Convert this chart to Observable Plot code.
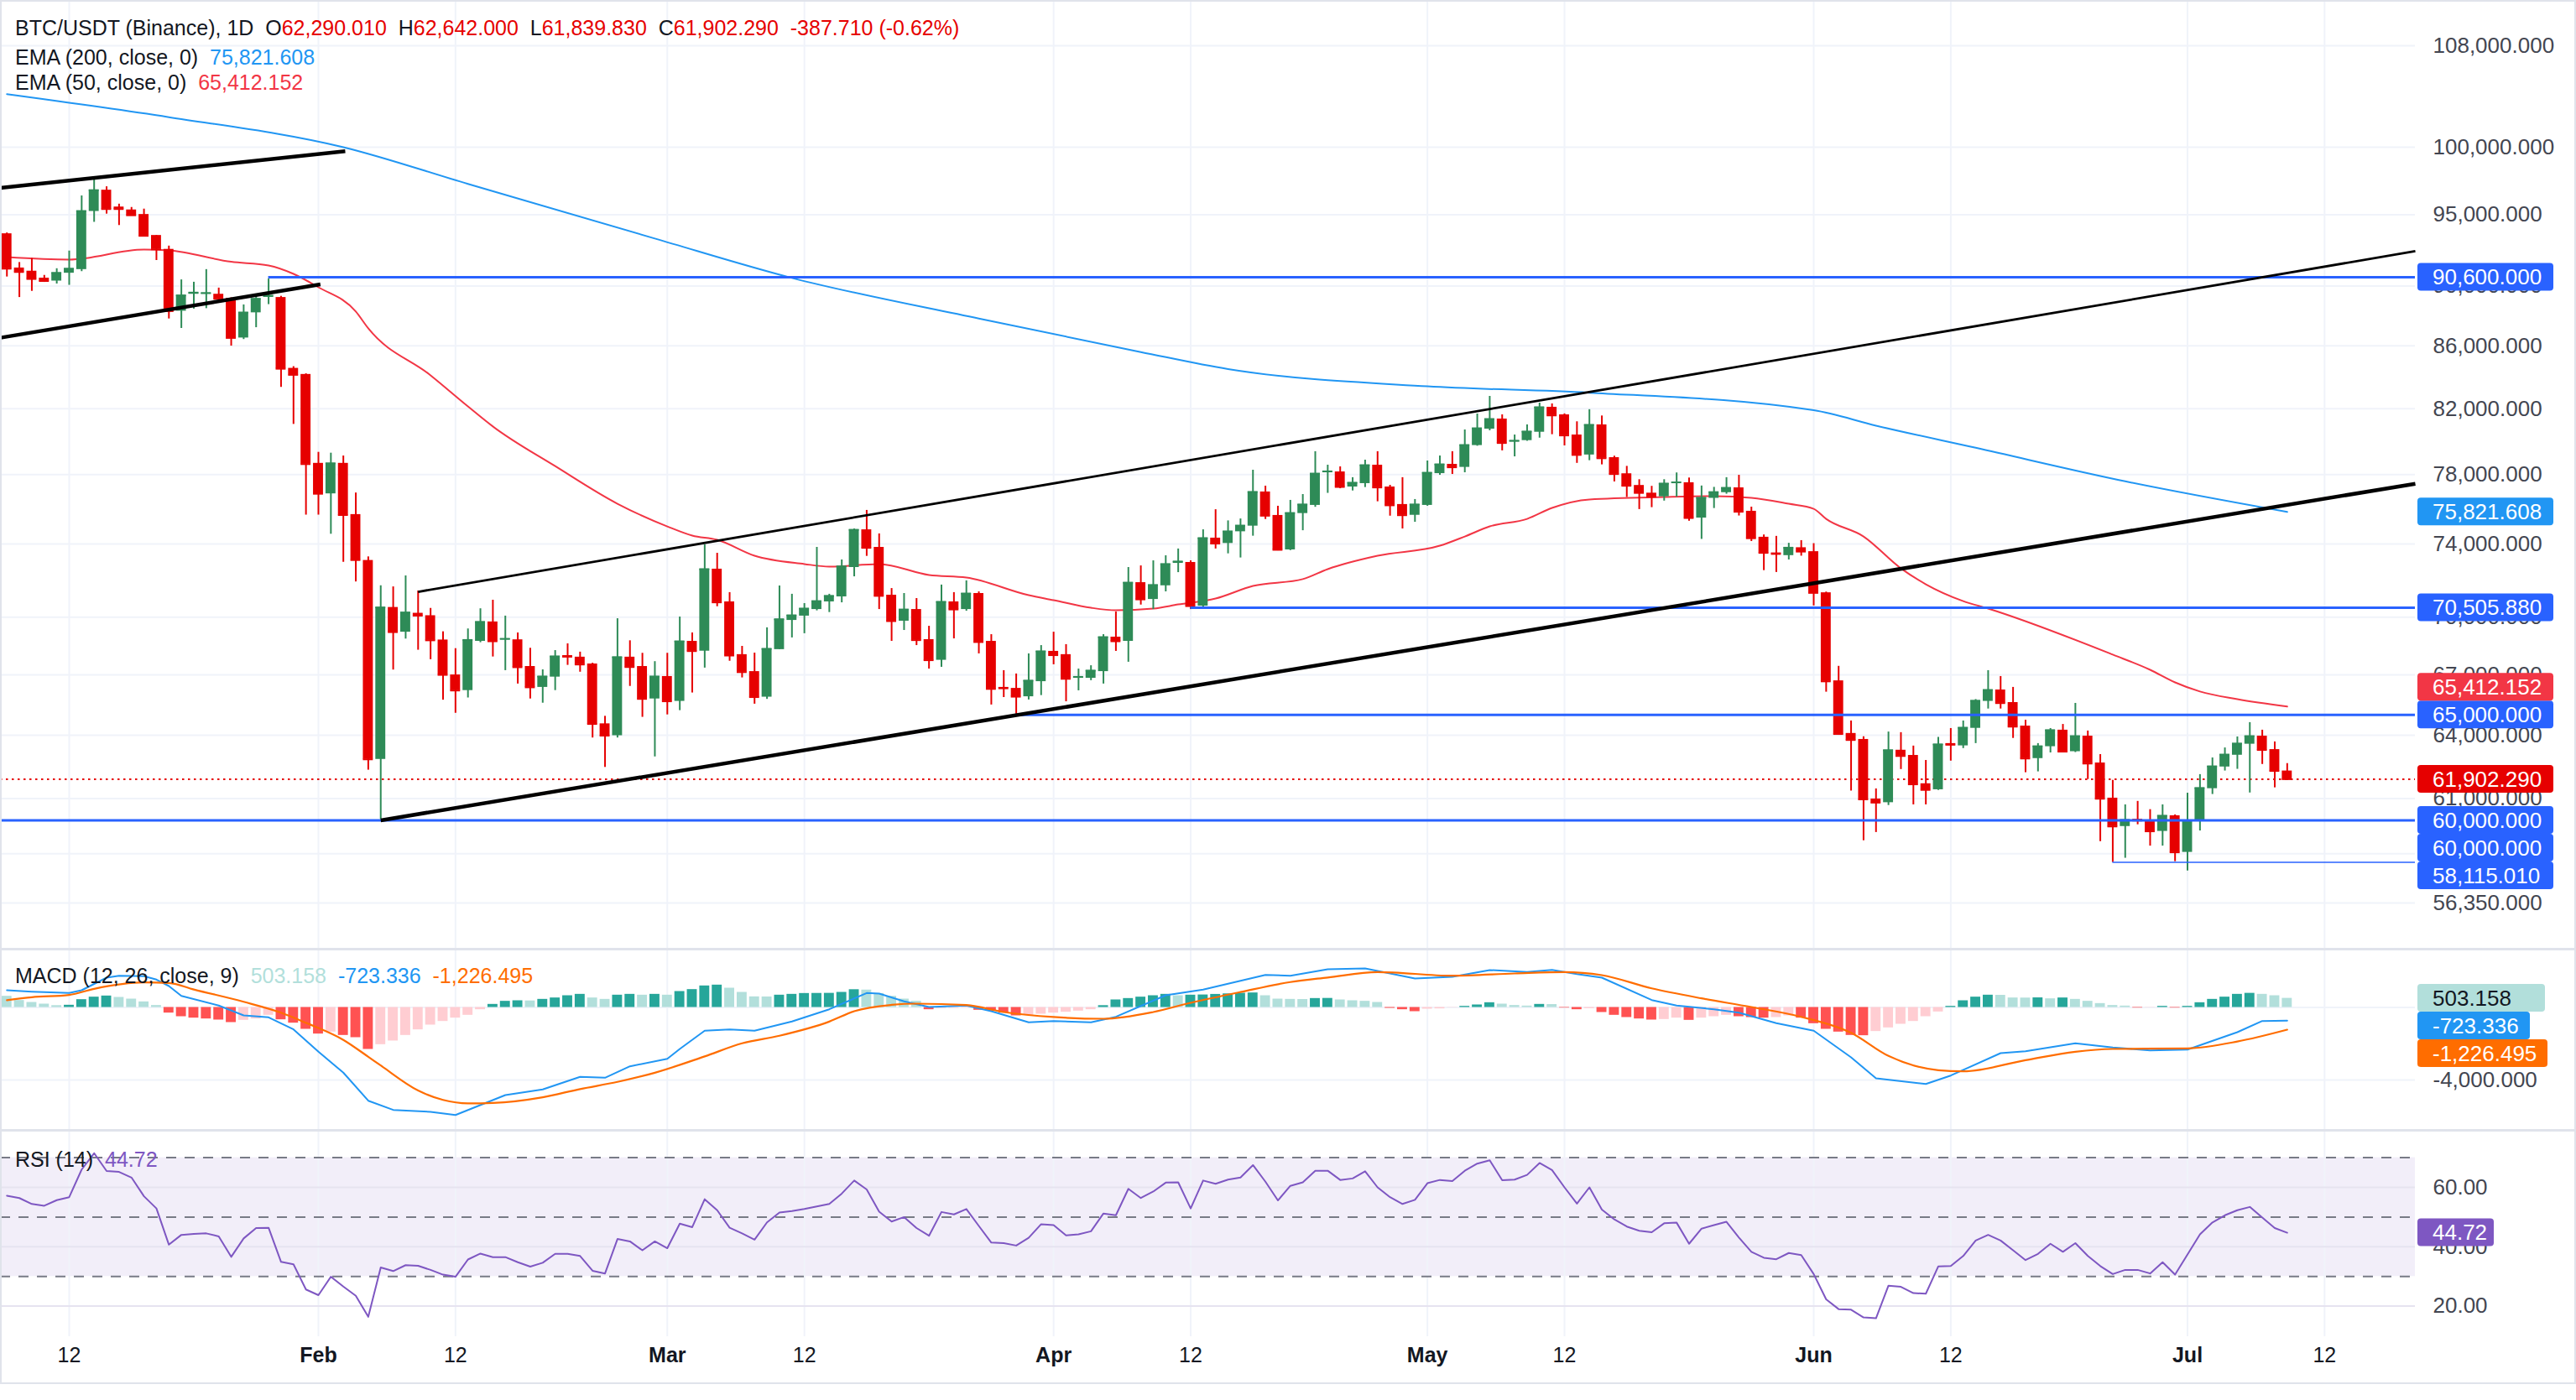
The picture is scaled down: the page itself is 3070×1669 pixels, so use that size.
<!DOCTYPE html>
<html>
<head>
<meta charset="utf-8">
<script src="https://cdn.jsdelivr.net/npm/d3@7"></script>
<script src="https://cdn.jsdelivr.net/npm/@observablehq/plot@0.6"></script>
<style>
html, body { margin:0; padding:0; background:#ffffff; overflow:hidden; }
#chart { position:relative; width:3070px; height:1669px; background:#fff; font-family:"Liberation Sans", Arial, sans-serif; }
#chart svg { position:absolute; left:0; max-width:none; }
.legend { position:absolute; left:18px; font-size:25px; line-height:30px; color:#131722; white-space:pre; z-index:5; }
.sep { position:absolute; left:0; width:3070px; height:3px; background:#e0e3eb; z-index:4; }
.border { position:absolute; left:0; top:0; width:3066px; height:1646px; border:2px solid #e0e3eb; pointer-events:none; z-index:6; }
</style>
</head>
<body>
<div id="chart"></div>
<script>
// ---------------- DATA ----------------
const dates = [
"01-07","01-08","01-09","01-10","01-11","01-12","01-13","01-14","01-15","01-16","01-17","01-18","01-19","01-20","01-21","01-22","01-23","01-24","01-25","01-26","01-27","01-28","01-29","01-30","01-31",
"02-01","02-02","02-03","02-04","02-05","02-06","02-07","02-08","02-09","02-10","02-11","02-12","02-13","02-14","02-15","02-16","02-17","02-18","02-19","02-20","02-21","02-22","02-23","02-24","02-25","02-26","02-27","02-28",
"03-01","03-02","03-03","03-04","03-05","03-06","03-07","03-08","03-09","03-10","03-11","03-12","03-13","03-14","03-15","03-16","03-17","03-18","03-19","03-20","03-21","03-22","03-23","03-24","03-25","03-26","03-27","03-28","03-29","03-30","03-31",
"04-01","04-02","04-03","04-04","04-05","04-06","04-07","04-08","04-09","04-10","04-11","04-12","04-13","04-14","04-15","04-16","04-17","04-18","04-19","04-20","04-21","04-22","04-23","04-24","04-25","04-26","04-27","04-28","04-29","04-30",
"05-01","05-02","05-03","05-04","05-05","05-06","05-07","05-08","05-09","05-10","05-11","05-12","05-13","05-14","05-15","05-16","05-17","05-18","05-19","05-20","05-21","05-22","05-23","05-24","05-25","05-26","05-27","05-28","05-29","05-30","05-31",
"06-01","06-02","06-03","06-04","06-05","06-06","06-07","06-08","06-09","06-10","06-11","06-12","06-13","06-14","06-15","06-16","06-17","06-18","06-19","06-20","06-21","06-22","06-23","06-24","06-25","06-26","06-27","06-28","06-29","06-30",
"07-01","07-02","07-03","07-04","07-05","07-06","07-07","07-08","07-09"];

const open = [
93640,91240,91020,90540,90340,90880,91130,95240,96790,95560,95350,95020,93520,92540,88300,89440,89440,89440,89160,86520,88190,89230,89220,84550,84160,
78670,76870,78670,75670,73080,62840,70520,69210,70210,70080,68800,67000,66210,68730,69750,68800,68810,67430,66370,66890,67990,67910,67560,64560,63980,67910,67430,65790,
66920,65670,68730,68220,72600,70820,68040,67170,65880,68300,69830,70060,70410,70820,71090,72690,74800,73810,71180,69790,70410,68820,67750,70820,70410,71270,68730,66370,66320,65900,66660,
68210,68040,66830,66830,67170,68950,68730,71860,70950,71690,72920,72970,70590,74330,74030,74690,75010,76980,75620,73670,75730,76200,78110,78160,77270,77470,78560,77270,76250,75630,
76200,78060,78610,78430,79740,80740,81360,79950,80040,80550,82090,81620,80380,79170,81000,79010,78050,77360,76910,76700,77500,77520,75470,76610,76940,77220,75860,74380,73500,73350,73790,
73570,71310,66700,64090,63800,60980,60810,63280,63030,61690,61410,63600,63490,64340,65670,66240,65610,64450,62880,63450,64250,63210,63960,62670,61020,59720,60050,59990,59500,60210,
58560,59940,61460,62480,63040,63570,63960,63310,62290.01];

const high = [
93700,91620,91900,90730,91190,92420,96370,97770,97040,95770,95530,95410,93520,92770,90420,90260,91130,89860,89200,88720,89410,90480,89300,84660,84200,
79330,79280,79110,76920,73280,71690,71630,72230,71410,70470,69230,68350,69380,70450,70910,70060,69170,68370,67260,68250,68600,68170,67600,64930,69920,68760,68110,67680,
68110,70010,69170,73950,73480,71320,68470,68120,69440,71680,71230,70730,73810,71230,73110,74850,75910,74570,71540,71270,71000,69520,71730,71320,71960,71360,69080,67220,67050,68080,68510,
69210,68560,67300,67470,69080,70280,72690,72780,73060,73340,73720,73060,74800,75950,75310,75420,78260,77320,76150,76490,76830,79370,78560,78460,77820,78860,79370,77370,77820,76540,
78810,79110,79370,80690,81670,82770,81620,80380,81000,82350,82300,81680,81190,81940,81550,79100,78490,77700,77310,77700,78100,77800,77330,77250,77820,77960,76100,74510,74430,74040,74190,
74020,71350,67440,64700,63930,61450,64160,64130,63480,62790,63900,64330,64700,65760,67220,66920,66370,64740,63600,64330,64530,65570,64210,63070,61850,60710,60870,60490,60710,60250,
61250,62120,62910,63390,63920,64620,64250,63680,62642];

const low = [
90620,89220,89640,90250,90140,90050,90990,94460,95050,94230,94910,93450,91760,87780,87150,88440,88470,89080,85990,86420,87200,88740,83340,81030,75640,
75640,74550,72980,71900,62330,60050,67250,68850,68270,67780,65730,65080,65840,68660,67920,67220,66540,65790,65580,66210,67490,67140,63870,62460,63870,66420,64880,62960,
65000,65210,66090,67350,70560,67700,66850,65530,65770,68300,68910,69130,70340,70250,70770,72180,73310,70410,68730,69300,68510,67300,67390,68860,70320,68080,65490,65860,64960,65740,65960,
67520,65650,66200,66710,66540,68210,67650,70650,70410,71360,72410,70410,70500,73720,73450,73220,74440,75390,73620,73630,74750,76090,76900,77170,77040,77240,76410,75580,74850,75230,
76150,77960,78010,78110,79700,80640,79420,79060,80000,80190,80400,79720,78670,78830,78580,77570,76660,75960,76070,76450,76680,75290,74260,76020,76850,75590,74140,72520,72420,73110,73320,
70600,66130,64000,61350,59080,59450,60680,62360,60710,60710,61380,62760,63360,63600,65290,65290,63850,62210,62250,63150,63170,63170,61890,59040,58115,58300,59800,58840,58840,58150,
57740,59520,61190,62290,62370,61260,62600,61500,61839.83];

const close = [
91190,90960,90480,90340,90900,91190,95270,96790,95410,95410,94960,93490,92540,88300,89360,89550,89520,89130,86520,88210,89130,89340,84520,84130,78620,
76870,78670,75640,73100,62840,70520,69210,70250,70080,68780,67000,66210,68800,69750,68730,68860,67390,66370,66920,67950,67930,67530,64550,63980,67910,67400,65790,66920,
65670,68730,68220,72600,70790,67990,67140,65880,68340,69890,70100,70460,70860,71140,72750,74800,73780,71140,69790,70410,68790,67750,70820,70410,71270,68690,66290,66320,65900,66710,68210,
68010,66800,66900,67220,68950,68730,71860,70950,71730,72880,73020,70590,74330,74020,74710,75040,76980,75600,73670,75760,76250,78060,78190,77270,77520,78560,77240,76200,75630,76250,
78110,78610,78430,79770,80790,81360,79890,80030,80590,82090,81580,80350,79170,81000,78970,78030,77340,76920,76700,77470,77540,75470,76640,76970,77220,75830,74320,73500,73440,73790,73570,
71300,66670,64060,63770,60960,60810,63280,63000,61660,61400,63560,63540,64370,65700,66240,65580,64420,62880,63470,64250,63210,63960,62640,60990,59720,60020,59990,59500,60210,58560,
59990,61490,62510,63070,63600,63960,63290,62290,61902.29];

const ema200Dates = ["01-07","01-20","02-03","02-13","02-28","03-11","03-26","04-08","04-15","05-01","05-14","06-01","06-06","06-14","06-26","07-09"];
const ema200Values = [104100,102300,100000,97250,93300,90550,87800,85600,84500,83400,83000,81900,80950,79600,77600,75821.608];

const ema50Dates = ["01-07","01-12","01-18","01-20","01-25","01-28","01-30","02-01","02-04","02-05","02-10","02-13","02-15","02-20","02-25","03-01","03-03","03-05","03-08","03-12","03-14","03-18","03-22","03-25","03-30","04-01","04-04","04-06","04-09","04-11","04-14","04-17","04-21","04-23","04-27","05-02","05-04","05-06","05-09","05-11","05-14","05-20","05-24","05-27","05-30","06-01","06-02","06-05","06-08","06-10","06-13","06-15","06-25","06-28","06-30","07-02","07-05","07-09"];
const ema50Values = [91990,91820,92520,92460,91670,91410,90830,89910,88270,87150,84100,82140,80900,78500,76290,74990,74470,74230,73340,72880,72740,72880,72280,72140,71180,70910,70500,70370,70460,70680,71000,71680,72050,72600,73340,73900,74420,74990,75420,76050,76540,76680,76730,76640,76290,76000,75420,74420,72640,71770,70860,70460,68040,67260,66620,66160,65780,65412.152];

// horizontal levels drawn on the chart
const levelPrices = [90600, 70505.88, 65000, 60000, 58115.01];
const levelStarts = ["01-28", "04-12", "03-29", null, "06-25"];

// trend lines (start / end time and price)
const trendFrom = ["2026-01-06T11:30Z", "2026-01-06T11:30Z", "2026-02-09T00:00Z", "2026-02-06T00:00Z"];
const trendTo = ["2026-02-03T03:40Z", "2026-02-01T03:50Z", "2026-07-19T06:45Z", "2026-07-19T06:45Z"];
const trendFromPrice = [96960, 86535, 71360, 60000];
const trendToPrice = [99690, 90110, 92410, 77460];

const priceTicks = [108000, 100000, 95000, 90000, 86000, 82000, 78000, 74000, 70000, 67000, 64000, 61000, 58500, 56350];
const timeTicks = ["01-12","02-01","02-12","03-01","03-12","04-01","04-12","05-01","05-12","06-01","06-12","07-01","07-12"];
const timeTickLabels = ["12","Feb","12","Mar","12","Apr","12","May","12","Jun","12","Jul","12"];

const macdHist = [
616,385,277,185,100,123,431,570,632,555,462,308,108,-308,-509,-586,-632,-693,-832,-709,-632,-431,-678,-863,-1202,
-1464,-1356,-1541,-1664,-2312,-2050,-1849,-1541,-1233,-971,-771,-586,-431,-123,170,339,370,360,447,524,647,724,524,447,678,724,678,724,
678,879,986,1187,1233,1063,832,586,580,678,724,770,775,780,832,980,960,770,616,462,339,-123,-62,-46,-31,-154,-200,-308,-462,-431,-370,
-308,-262,-200,-123,100,416,493,570,647,724,647,678,690,720,750,785,801,647,462,447,440,493,500,416,370,339,277,-46,-123,-231,
-92,-77,-15,62,139,262,185,108,77,170,160,-31,-123,-62,-277,-431,-555,-632,-693,-663,-586,-709,-586,-509,-431,-509,-555,-586,-555,-462,-586,
-894,-1202,-1356,-1541,-1556,-1325,-1125,-925,-771,-509,-247,62,370,570,678,670,524,520,530,478,524,447,339,216,108,77,-31,-15,62,-31,
62,262,447,570,724,780,724,647,503.158];

const macdDates = ["01-07","01-09","01-12","01-13","01-15","01-16","01-18","01-19","01-20","01-21","01-24","01-26","01-28","01-30","02-01","02-03","02-05","02-07","02-10","02-12","02-16","02-19","02-22","02-24","02-26","03-01","03-02","03-04","03-06","03-08","03-11","03-14","03-17","03-18","03-20","03-22","03-25","03-27","03-30","04-01","04-04","04-06","04-10","04-13","04-18","04-20","04-23","04-26","04-30","05-03","05-06","05-09","05-11","05-13","05-15","05-19","05-21","05-24","05-26","05-29","06-01","06-04","06-06","06-10","06-12","06-16","06-18","06-22","06-25","06-28","07-01","07-05","07-07","07-09"];
const macdValues = [950,870,795,948,1641,1748,1720,1535,1179,638,102,-439,-546,-1211,-2441,-3597,-5142,-5650,-5757,-5928,-4832,-4522,-3829,-3875,-3246,-2830,-2289,-1285,-1211,-1285,-777,-102,795,763,333,23,102,-208,-823,-749,-823,-518,670,980,1794,1748,2104,2150,1595,1688,2058,1951,2072,1840,1641,407,102,-102,-287,-869,-1285,-2751,-3907,-4217,-3755,-2520,-2414,-1979,-2210,-2367,-2321,-1364,-749,-723.336];

const signalDates = ["01-07","01-09","01-12","01-14","01-18","01-20","01-22","01-26","01-29","01-31","02-03","02-05","02-06","02-09","02-11","02-13","02-15","02-19","02-22","02-25","02-28","03-04","03-07","03-10","03-14","03-16","03-19","03-21","03-25","03-28","04-01","04-05","04-09","04-12","04-16","04-20","04-23","04-27","05-03","05-08","05-12","05-15","05-19","05-23","05-27","05-31","06-04","06-07","06-11","06-13","06-18","06-22","06-25","07-01","07-05","07-09"];
const signalValues = [400,564,690,1026,1378,1350,990,310,-290,-850,-1790,-2720,-3200,-4580,-5100,-5290,-5265,-4950,-4500,-4106,-3600,-2700,-1979,-1560,-780,-208,140,208,129,-254,-530,-624,-254,254,850,1400,1650,1951,1748,1873,1951,1780,1050,500,23,-518,-1400,-2673,-3460,-3524,-2904,-2441,-2289,-2257,-1880,-1226.495];

const rsi = [
57.2,56.4,54.4,53.8,55.7,56.7,66,71.5,65.5,65.2,63.3,57,52.9,40.7,44,44.3,44.5,43.5,36.6,42.8,46.3,46.4,34.9,34.1,25.6,
23.7,29.9,26.6,23.5,16.4,33,31.8,33.8,33.6,32.2,30.6,29.9,35.7,37.7,36.5,36.5,34.8,33.3,34.6,37.6,37.6,36.9,31.9,31,42.6,41.8,38.8,41.8,
39.5,47.8,46.6,56,52.3,46.4,44.5,42.4,48.2,51.5,52,52.7,53.6,54.4,57.9,62.3,59.3,51.8,48.5,50,46.3,43.7,51.7,50.9,52.7,47,41.4,41.2,40.4,43,47.6,
47.3,43.8,44.2,45.2,51.2,50.6,59.5,56.4,58.6,61.6,61.7,52.9,62.3,61.2,62.6,63.3,67.5,61.9,55.6,60.5,61.7,65.6,65.6,62.5,63,65.4,60,56.7,54.4,55.8,
61.4,62.5,62.1,65.6,68,69.1,62.4,62.6,64.2,68.2,65.8,60,54.5,60,52.5,49.2,46.8,45.4,44.9,47.9,48.1,41,46.1,47.3,48.4,43.1,38.3,36.3,35.8,37.9,37.2,
30.8,22.3,19,18.8,16.2,15.9,26.9,26.5,24.4,24.2,33.4,33.5,36.9,42.1,44,42.1,38.8,35.5,37.6,41,38.3,41.2,36.9,33.5,30.8,32.2,32.2,31,34.8,30.6,
37.4,44.2,48.2,50.6,52.3,53.4,49.8,46.3,44.72];

const macdTicks = [0, -4000];
const rsiTicks = [60, 40, 20];
const rsiLevels = [70, 50, 30];

// ---------------- STYLE / LAYOUT ----------------
const FONT = '"Liberation Sans", Arial, sans-serif';
const W = 3070, MR = 192;
const UP = "#2e8b57", DOWN = "#e60000", GRID = "#f0f3fa", AXIS = "#434651", BLUE = "#2962ff";
const DAY = 864e5;
const parse = s => new Date("2026-" + s + "T00:00:00Z");
const shift = (d, k) => new Date(d.getTime() + k * DAY);
const xDomain = [new Date(Date.UTC(2026, 0, 6, 11, 30)), new Date(Date.UTC(2026, 6, 19, 6, 45))];
const fmt3 = v => d3.format(",.3f")(v).replace("\u2212", "-");
const baseStyle = {background: "transparent", fontFamily: FONT, fontSize: "26px", overflow: "visible", maxWidth: "none"};
const tickDates = timeTicks.map(parse);

const candles = dates.map((s, i) => ({date: parse(s), o: open[i], h: high[i], l: low[i], c: close[i]}));
const ccol = d => d.c >= d.o ? UP : DOWN;
const ema200 = ema200Dates.map((s, i) => ({date: parse(s), v: ema200Values[i]}));
const ema50 = ema50Dates.map((s, i) => ({date: parse(s), v: ema50Values[i]}));
const levels = levelPrices.map((p, i) => ({p, from: levelStarts[i] ? parse(levelStarts[i]) : xDomain[0]}));
const trends = trendFrom.map((s, i) => ({x1: new Date(s), x2: new Date(trendTo[i]), y1: trendFromPrice[i], y2: trendToPrice[i]}));

const chart = document.getElementById("chart");
function place(svg, top) { svg.style.position = "absolute"; svg.style.left = "0px"; svg.style.top = top + "px"; chart.appendChild(svg); }

function drawBoxes(svg, yscale, items) {
  const h = 33, x0 = 2881;
  const placed = [];
  const g = d3.select(svg).append("g").attr("text-anchor", "start");
  for (const it of items) {
    const y0 = yscale.apply(it.value);
    let y = y0;
    for (let k = 0; k < 12; k++) {
      let moved = false;
      for (const p of placed) {
        if (Math.abs(y - p) < h - 0.5) { y = y0 < p ? p - h : p + h; moved = true; }
      }
      if (!moved) break;
    }
    placed.push(y);
    g.append("rect").attr("x", x0).attr("y", y - h / 2).attr("width", it.w).attr("height", h).attr("rx", 4).attr("fill", it.bg);
    g.append("text").attr("x", 2899).attr("y", y).attr("dy", "0.36em").attr("fill", it.fg).attr("text-anchor", "start")
      .attr("font-size", 26).attr("font-family", FONT).text(it.text);
  }
}

// ---------------- PRICE PANE ----------------
const pricePlot = Plot.plot({
  width: W, height: 1130, marginTop: 0, marginBottom: 0, marginLeft: 0, marginRight: MR,
  style: baseStyle,
  x: {type: "utc", domain: xDomain, axis: null},
  y: {type: "log", domain: [54447, 111777], axis: null},
  marks: [
    Plot.ruleX(tickDates, {stroke: GRID, strokeWidth: 2}),
    Plot.ruleY(priceTicks, {stroke: GRID, strokeWidth: 2}),
    Plot.text(priceTicks, {y: d => d, text: d => fmt3(d), frameAnchor: "right", textAnchor: "start", dx: 21, fill: AXIS, fontSize: 26}),
    Plot.line(ema200, {x: "date", y: "v", stroke: "#2196f3", strokeWidth: 2, curve: "monotone-x"}),
    Plot.line(ema50, {x: "date", y: "v", stroke: "#f23645", strokeWidth: 2, curve: "monotone-x"}),
    Plot.ruleY([close[close.length - 1]], {stroke: DOWN, strokeWidth: 2, strokeDasharray: "2.5,4.5"}),
    Plot.ruleX(candles, {x: "date", y1: "l", y2: "h", stroke: ccol, strokeWidth: 2}),
    Plot.rect(candles, {x1: d => shift(d.date, -0.4), x2: d => shift(d.date, 0.4), y1: d => Math.min(d.o, d.c), y2: d => Math.max(d.o, d.c), fill: ccol}),
    Plot.ruleY(candles, {x1: d => shift(d.date, -0.4), x2: d => shift(d.date, 0.4), y: "c", stroke: ccol, strokeWidth: 2}),
    Plot.ruleY(levels.filter(d => d.p !== 58115.01), {y: "p", x1: "from", x2: () => xDomain[1], stroke: BLUE, strokeWidth: 3}),
    Plot.ruleY(levels.filter(d => d.p === 58115.01), {y: "p", x1: "from", x2: () => xDomain[1], stroke: BLUE, strokeWidth: 1.5}),
    Plot.link(trends.filter((d, i) => i !== 2), {x1: "x1", x2: "x2", y1: "y1", y2: "y2", stroke: "#000", strokeWidth: 4.5}),
    Plot.link(trends.filter((d, i) => i === 2), {x1: "x1", x2: "x2", y1: "y1", y2: "y2", stroke: "#000", strokeWidth: 2.8})
  ]
});
place(pricePlot, 0);
drawBoxes(pricePlot, pricePlot.scale("y"), [
  {value: 90600, text: fmt3(90600), bg: BLUE, fg: "#fff", w: 162},
  {value: 70505.88, text: fmt3(70505.88), bg: BLUE, fg: "#fff", w: 162},
  {value: 65000, text: fmt3(65000), bg: BLUE, fg: "#fff", w: 162},
  {value: 60000, text: fmt3(60000), bg: BLUE, fg: "#fff", w: 162},
  {value: 60000, text: fmt3(60000), bg: BLUE, fg: "#fff", w: 162},
  {value: 58115.01, text: fmt3(58115.01), bg: BLUE, fg: "#fff", w: 162},
  {value: close[close.length - 1], text: fmt3(close[close.length - 1]), bg: DOWN, fg: "#fff", w: 162},
  {value: ema200Values[ema200Values.length - 1], text: fmt3(ema200Values[ema200Values.length - 1]), bg: "#2196f3", fg: "#fff", w: 162},
  {value: ema50Values[ema50Values.length - 1], text: fmt3(ema50Values[ema50Values.length - 1]), bg: "#f23645", fg: "#fff", w: 162}
]);

// ---------------- MACD PANE ----------------
const hist = macdHist.map((v, i) => {
  const prev = i > 0 ? macdHist[i - 1] : (v >= 0 ? Infinity : -Infinity);
  const color = v >= 0 ? (v >= prev ? "#26a69a" : "#b2dfdb") : (v <= prev ? "#ff5252" : "#ffcdd2");
  return {date: parse(dates[i]), v, color};
});
const macdLine = macdDates.map((s, i) => ({date: parse(s), v: macdValues[i]}));
const signalLine = signalDates.map((s, i) => ({date: parse(s), v: signalValues[i]}));
const macdPlot = Plot.plot({
  width: W, height: 213, marginTop: 0, marginBottom: 0, marginLeft: 0, marginRight: MR,
  style: baseStyle,
  x: {type: "utc", domain: xDomain, axis: null},
  y: {domain: [-6728, 3121], axis: null},
  marks: [
    Plot.ruleX(tickDates, {stroke: GRID, strokeWidth: 2}),
    Plot.ruleY(macdTicks, {stroke: GRID, strokeWidth: 2}),
    Plot.text(macdTicks, {y: d => d, text: d => fmt3(d), frameAnchor: "right", textAnchor: "start", dx: 21, fill: AXIS, fontSize: 26}),
    Plot.rect(hist, {x1: d => shift(d.date, -0.4), x2: d => shift(d.date, 0.4), y1: () => 0, y2: "v", fill: "color"}),
    Plot.line(macdLine, {x: "date", y: "v", stroke: "#2196f3", strokeWidth: 2}),
    Plot.line(signalLine, {x: "date", y: "v", stroke: "#ff6d00", strokeWidth: 2.2, curve: "monotone-x"})
  ]
});
place(macdPlot, 1133);
drawBoxes(macdPlot, macdPlot.scale("y"), [
  {value: macdHist[macdHist.length - 1], text: "503.158", bg: "#b2dfdb", fg: "#131722", w: 152},
  {value: macdValues[macdValues.length - 1], text: "-723.336", bg: "#2196f3", fg: "#fff", w: 134},
  {value: signalValues[signalValues.length - 1], text: "-1,226.495", bg: "#ff6d00", fg: "#fff", w: 155}
]);

// ---------------- RSI PANE ----------------
const rsiData = rsi.map((v, i) => ({date: parse(dates[i]), v}));
const rsiPlot = Plot.plot({
  width: W, height: 320, marginTop: 0, marginBottom: 76, marginLeft: 0, marginRight: MR,
  style: baseStyle,
  x: {type: "utc", domain: xDomain, axis: null},
  y: {domain: [9.72, 78.64], axis: null},
  marks: [
    Plot.rect([0], {x1: () => xDomain[0], x2: () => xDomain[1], y1: () => rsiLevels[2], y2: () => rsiLevels[0], fill: "#7e57c2", fillOpacity: 0.1}),
    Plot.ruleX(tickDates, {stroke: GRID, strokeWidth: 2}),
    Plot.ruleY(rsiTicks, {stroke: "#e6e3f0", strokeWidth: 2}),
    Plot.ruleY(rsiLevels, {stroke: "#787b86", strokeWidth: 2, strokeDasharray: "12,10"}),
    Plot.line(rsiData, {x: "date", y: "v", stroke: "#7e57c2", strokeWidth: 2}),
    Plot.text(rsiTicks, {y: d => d, text: d => d3.format(".2f")(d), frameAnchor: "right", textAnchor: "start", dx: 21, fill: AXIS, fontSize: 26}),
    Plot.text(tickDates.filter((d, i) => /^\d/.test(timeTickLabels[i])), {x: d => d, text: d => timeTickLabels[tickDates.indexOf(d)], frameAnchor: "bottom", dy: 30, fill: "#131722", fontSize: 25}),
    Plot.text(tickDates.filter((d, i) => !/^\d/.test(timeTickLabels[i])), {x: d => d, text: d => timeTickLabels[tickDates.indexOf(d)], frameAnchor: "bottom", dy: 30, fill: "#131722", fontSize: 25, fontWeight: 700})
  ]
});
place(rsiPlot, 1349);
drawBoxes(rsiPlot, rsiPlot.scale("y"), [
  {value: rsi[rsi.length - 1], text: "44.72", bg: "#7e57c2", fg: "#fff", w: 91}
]);

// ---------------- SEPARATORS, LEGENDS ----------------
function div(cls, css, html) { const d = document.createElement("div"); d.className = cls; Object.assign(d.style, css); if (html) d.innerHTML = html; chart.appendChild(d); return d; }
div("sep", {top: "1130px"});
div("sep", {top: "1346px"});
div("border", {});
const red = s => `<span style="color:${DOWN}">${s}</span>`;
div("legend", {top: "18px"}, `BTC/USDT (Binance), 1D  O${red("62,290.010")}  H${red("62,642.000")}  L${red("61,839.830")}  C${red("61,902.290")}  ${red("-387.710 (-0.62%)")}`);
div("legend", {top: "53px"}, `EMA (200, close, 0)  <span style="color:#2196f3">75,821.608</span>`);
div("legend", {top: "83px"}, `EMA (50, close, 0)  <span style="color:#f23645">65,412.152</span>`);
div("legend", {top: "1148px"}, `MACD (12, 26, close, 9)  <span style="color:#b2dfdb">503.158</span>  <span style="color:#2196f3">-723.336</span>  <span style="color:#ff6d00">-1,226.495</span>`);
div("legend", {top: "1367px"}, `RSI (14)  <span style="color:#7e57c2">44.72</span>`);
</script>
</body>
</html>
